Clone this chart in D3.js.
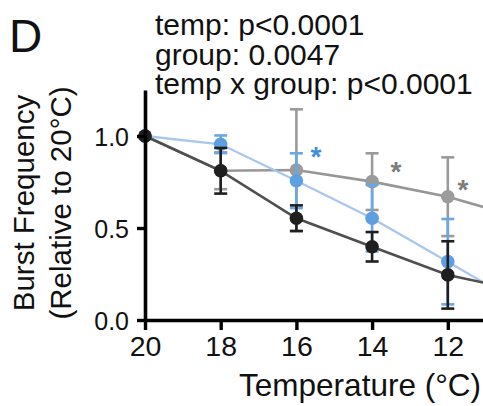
<!DOCTYPE html>
<html>
<head>
<meta charset="utf-8">
<script src="https://cdn.jsdelivr.net/npm/d3@7/dist/d3.min.js"></script>
<style>
  html, body { margin: 0; padding: 0; background: #fff; }
  svg { display: block; }
  text { font-family: "Liberation Sans", Arial, Helvetica, sans-serif; fill: #111; }
</style>
</head>
<body>
<svg id="chart" width="483" height="406"></svg>
<script>
// Temperatures (°C) at which burst frequency was measured
const temps = [20, 18, 16, 14, 12, 10];

// Burst frequency relative to 20°C, mean and SEM per group
const darkMean  = [1.0, 0.811, 0.553, 0.398, 0.245, 0.156];
const darkSem   = [0, 0.124, 0.070, 0.080, 0.183, 0];
const blueMean  = [1.0, 0.955, 0.757, 0.553, 0.317, 0.076];
const blueSem   = [0, 0.048, 0.149, 0.181, 0.232, 0];
const greyMean  = [1.0, 0.811, 0.815, 0.752, 0.670, 0.552];
const greySem   = [0, 0.10, 0.330, 0.154, 0.214, 0];

// Axis ticks
const xTicks = [20, 18, 16, 14, 12];
const yTicks = [0.0, 0.5, 1.0];

// Stats annotation
const statLines = ["temp: p<0.0001", "group: 0.0047", "temp x group: p<0.0001"];

// Significance markers: [temperature, series]
const stars = [[16, "blue"], [14, "grey"], [12, "grey"]];

const svg = d3.select("#chart");

const x = d3.scaleLinear().domain([20, 11.07]).range([145, 483]);
const y = d3.scaleLinear().domain([0, 1.25]).range([320, 90]);

const series = [
  { key: "grey", mean: greyMean, sem: greySem, line: "#979797", dot: "#9b9b9b", bar: "#9a9a9a", lw: 2.6 },
  { key: "blue", mean: blueMean, sem: blueSem, line: "#a8c7ee", dot: "#5d9fe0", bar: "#6aa7e6", lw: 2.3 },
  { key: "dark", mean: darkMean, sem: darkSem, line: "#4f4f4f", dot: "#1f1f1f", bar: "#1f1f1f", lw: 2.6 }
];

const plot = svg.append("g");

series.forEach(s => {
  const pts = temps.map((t, i) => ({ t, m: s.mean[i], e: s.sem[i] }));
  const g = plot.append("g");

  g.append("path")
    .datum(pts)
    .attr("fill", "none")
    .attr("stroke", s.line)
    .attr("stroke-width", s.lw)
    .attr("d", d3.line().x(d => x(d.t)).y(d => y(d.m)));

  const bars = pts.filter(d => d.e > 0);
  g.selectAll("line.err")
    .data(bars).join("line")
    .attr("x1", d => x(d.t)).attr("x2", d => x(d.t))
    .attr("y1", d => y(d.m - d.e)).attr("y2", d => y(d.m + d.e))
    .attr("stroke", s.bar).attr("stroke-width", 2.6);
  [1, -1].forEach(sign => {
    g.selectAll("line.cap" + sign)
      .data(bars).join("line")
      .attr("x1", d => x(d.t) - 6.5).attr("x2", d => x(d.t) + 6.5)
      .attr("y1", d => y(d.m + sign * d.e)).attr("y2", d => y(d.m + sign * d.e))
      .attr("stroke", s.bar).attr("stroke-width", 2.6);
  });

  g.selectAll("circle")
    .data(pts).join("circle")
    .attr("cx", d => x(d.t)).attr("cy", d => y(d.m))
    .attr("r", 6.8)
    .attr("fill", s.dot);
});

// Axes
const xAxis = svg.append("g")
  .attr("transform", "translate(0,320)")
  .call(d3.axisBottom(x).tickValues(xTicks).tickSize(10).tickSizeOuter(0).tickPadding(6).tickFormat(d3.format("d")));
const yAxis = svg.append("g")
  .attr("transform", "translate(145,0)")
  .call(d3.axisLeft(y).tickValues(yTicks).tickSize(8).tickSizeOuter(0).tickPadding(8).tickFormat(d3.format(".1f")));

[xAxis, yAxis].forEach(a => {
  a.select(".domain").attr("stroke", "#000").attr("stroke-width", 3.6);
  a.selectAll(".tick line").attr("stroke", "#000").attr("stroke-width", 3.4);
  a.selectAll(".tick text").attr("fill", "#111");
});
xAxis.selectAll(".tick text").attr("font-size", 28.5).attr("dy", "0.71em");
yAxis.selectAll(".tick text").attr("font-size", 25).attr("dy", "0.36em");

// Axis titles
svg.append("text")
  .attr("x", 481).attr("y", 396)
  .attr("text-anchor", "end")
  .attr("font-size", 31.5)
  .text("Temperature (°C)");

const yTitle = svg.append("text")
  .attr("transform", "translate(0,203) rotate(-90)")
  .attr("text-anchor", "middle")
  .attr("font-size", 29.5);
yTitle.append("tspan").attr("x", 0).attr("y", 33.5).text("Burst Frequency");
yTitle.append("tspan").attr("x", 0).attr("y", 71).text("(Relative to 20°C)");

// Panel letter
svg.append("text")
  .attr("x", 9).attr("y", 52)
  .attr("font-size", 46)
  .text("D");

// Statistics
svg.append("g").selectAll("text")
  .data(statLines).join("text")
  .attr("x", 155)
  .attr("y", (d, i) => 35 + i * 29.7)
  .attr("font-size", 30)
  .text(d => d);

// Significance asterisks
const starColor = { blue: "#3f8fdb", grey: "#7d7d7d" };
const starPos = { "16-blue": [316, 150], "14-grey": [396, 165], "12-grey": [463, 183] };
stars.forEach(([t, k]) => {
  const p = starPos[t + "-" + k];
  svg.append("text")
    .attr("x", p[0]).attr("y", p[1] + 16)
    .attr("text-anchor", "middle")
    .attr("font-size", 28)
    .attr("font-weight", "bold")
    .attr("fill", starColor[k])
    .style("fill", starColor[k])
    .text("*");
});
</script>
</body>
</html>
